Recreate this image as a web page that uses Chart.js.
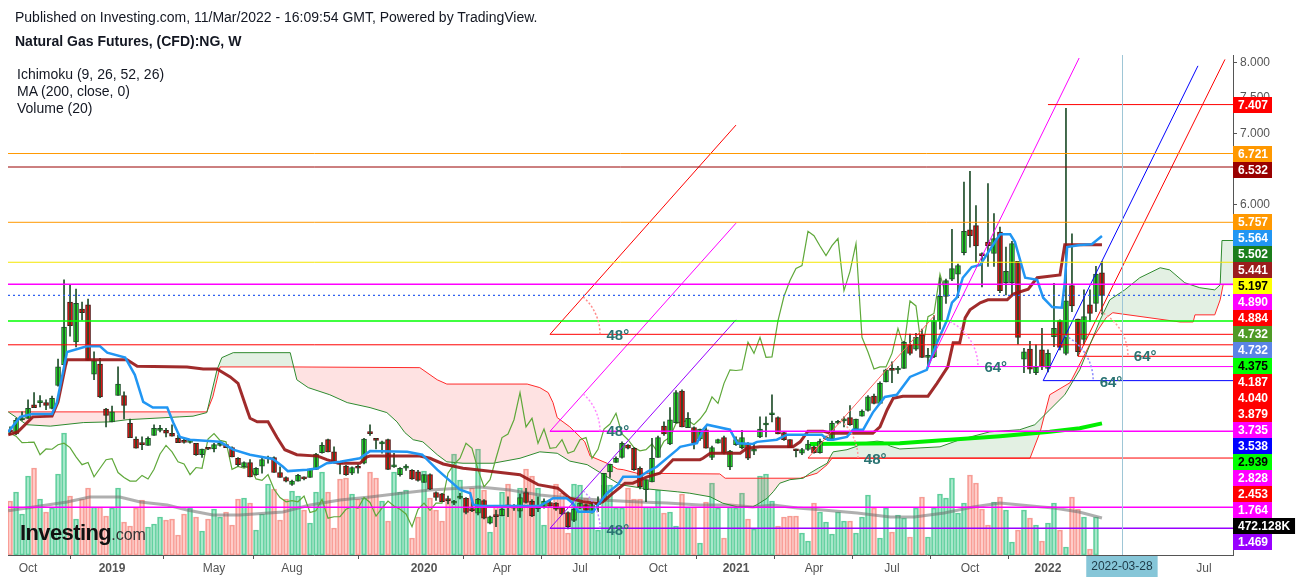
<!DOCTYPE html>
<html><head><meta charset="utf-8">
<script src="https://cdn.jsdelivr.net/npm/chart.js@4.4.1/dist/chart.umd.min.js"></script>
<style>
html,body{margin:0;padding:0;background:#fff;}
#wrap{position:relative;width:1299px;height:580px;overflow:hidden;font-family:Arial,"Liberation Sans",sans-serif;}
canvas{position:absolute;left:0;top:0;}
.t{position:absolute;white-space:nowrap;color:#131722;font-size:14px;line-height:16px;}
</style></head><body>
<div id="wrap">
<canvas id="c" width="1299" height="580"></canvas>
<div class="t" style="left:15px;top:9px;">Published on Investing.com, 11/Mar/2022 - 16:09:54 GMT, Powered by TradingView.</div>
<div class="t" style="left:15px;top:33px;font-weight:bold;">Natural Gas Futures, (CFD):NG, W</div>
<div class="t" style="left:17px;top:66px;">Ichimoku (9, 26, 52, 26)</div>
<div class="t" style="left:17px;top:83px;">MA (200, close, 0)</div>
<div class="t" style="left:17px;top:100px;">Volume (20)</div>
<div class="t" style="left:20px;top:520px;font-size:22px;line-height:26px;font-weight:bold;letter-spacing:-0.6px;color:#111">Investing<span style="font-size:16px;font-weight:normal;color:#333;letter-spacing:0">.com</span></div>
</div>
<script>
// ---------- DATA ----------
const weekStart = '2018-09-10'; // week index 0
const opens = [2.83,2.79,2.99,3.01,3.20,3.23,3.23,3.15,3.47,3.76,
4.64,4.08,4.54,4.60,3.63,3.77,3.14,2.96,3.33,3.33,
2.94,2.72,2.67,2.63,2.77,2.84,2.84,2.80,2.73,2.676,
2.672,2.66,2.50,2.59,2.58,2.63,2.64,2.60,2.45,2.33,
2.39,2.22,2.34,2.44,2.46,2.25,2.18,2.085,2.13,2.18,
2.18,2.295,2.53,2.71,2.54,2.39,2.34,2.24,2.32,2.38,
2.80,2.73,2.65,2.71,2.33,2.22,2.31,2.28,2.26,2.11,
2.22,1.97,1.95,1.858,1.82,1.89,1.89,1.72,1.68,1.856,
1.54,1.646,1.646,1.775,1.78,1.71,1.97,1.85,1.745,1.76,
1.83,1.82,1.76,1.69,1.58,1.75,1.80,1.70,1.80,1.865,
2.26,2.39,2.46,2.636,2.59,2.31,2.01,2.12,2.46,2.90,
2.65,2.95,3.39,2.88,2.88,2.72,2.85,2.46,2.66,2.74,
2.33,2.64,2.60,2.66,2.55,2.75,2.916,3.06,3.02,2.81,
2.71,2.56,2.52,2.575,2.61,2.53,2.72,2.72,2.94,2.975,
3.02,2.86,3.04,3.12,3.32,3.22,3.52,3.71,3.687,3.71,
4.04,3.98,4.18,3.865,3.87,4.38,4.72,4.96,5.03,5.33,
5.65,5.71,5.31,5.48,5.32,5.62,4.91,4.91,5.21,3.84,
3.98,3.65,3.97,3.71,4.155,4.38,3.92,4.87,4.40,4.117,
4.60,4.62,5.05];
const highs = [2.89,3.01,3.10,3.27,3.37,3.33,3.27,3.32,3.84,4.95,
4.88,4.82,4.64,4.68,3.94,3.85,3.15,3.18,3.73,3.38,
3.00,2.75,2.75,2.75,2.92,2.91,2.87,2.92,2.77,2.73,
2.69,2.66,2.58,2.60,2.66,2.67,2.645,2.61,2.46,2.40,
2.43,2.32,2.45,2.48,2.47,2.33,2.19,2.145,2.225,2.19,
2.30,2.52,2.67,2.72,2.61,2.40,2.35,2.33,2.36,2.73,
2.92,2.73,2.69,2.72,2.52,2.32,2.36,2.29,2.28,2.22,
2.23,1.98,1.96,1.92,1.86,1.96,1.90,1.84,1.89,1.87,
1.64,1.725,1.76,1.91,1.80,1.95,2.03,1.87,1.91,1.88,
1.87,1.83,1.76,1.70,1.75,1.83,1.81,1.835,1.91,2.24,
2.37,2.47,2.68,2.64,2.60,2.33,2.15,2.73,2.76,2.96,
3.16,3.40,3.41,3.09,2.89,2.86,2.88,2.62,2.72,2.76,
2.56,2.75,2.84,2.67,2.66,3.03,3.03,3.34,3.03,2.82,
2.71,2.58,2.59,2.70,2.62,2.72,2.76,2.97,2.98,3.03,
3.19,3.00,3.13,3.33,3.35,3.52,3.70,3.80,3.74,4.09,
4.19,4.20,4.26,3.99,4.45,4.98,4.96,5.66,5.17,6.32,
6.47,5.99,5.33,6.30,5.88,5.69,5.41,5.49,5.21,3.99,
4.09,4.04,4.27,3.97,4.90,4.39,7.355,5.594,4.40,4.81,
4.81,5.14,5.21];
const lows = [2.78,2.78,2.98,3.01,3.16,3.17,3.13,3.14,3.46,3.75,
4.16,4.01,4.39,3.82,3.55,3.30,2.89,2.96,3.33,3.00,
2.74,2.59,2.57,2.63,2.77,2.82,2.75,2.76,2.67,2.66,
2.66,2.49,2.46,2.57,2.54,2.62,2.60,2.47,2.34,2.32,
2.19,2.21,2.24,2.38,2.25,2.18,2.12,2.07,2.13,2.145,
2.18,2.29,2.52,2.54,2.38,2.23,2.21,2.22,2.24,2.37,
2.77,2.58,2.52,2.29,2.32,2.20,2.28,2.155,2.13,2.11,
2.01,1.86,1.84,1.81,1.80,1.88,1.67,1.70,1.655,1.60,
1.53,1.49,1.64,1.63,1.72,1.62,1.82,1.63,1.70,1.75,
1.78,1.72,1.66,1.46,1.56,1.74,1.70,1.68,1.70,1.86,
2.18,2.39,2.45,2.58,2.28,2.02,1.84,2.12,2.46,2.77,
2.64,2.94,2.89,2.88,2.58,2.70,2.59,2.43,2.66,2.51,
2.29,2.63,2.58,2.43,2.50,2.74,2.75,2.96,2.79,2.70,
2.60,2.47,2.50,2.56,2.52,2.52,2.71,2.71,2.93,2.89,
2.91,2.85,3.04,3.11,3.21,3.21,3.52,3.51,3.64,3.71,
3.90,3.96,3.86,3.74,3.86,4.26,4.62,4.94,4.70,5.30,
5.41,5.19,4.85,5.14,5.14,4.77,4.74,4.74,4.05,3.65,
3.64,3.62,3.69,3.66,4.015,3.97,3.90,4.505,3.888,4.05,
4.365,4.505,4.47];
const closes = [2.82,2.98,3.01,3.15,3.16,3.26,3.19,3.29,3.73,4.29,
4.31,4.62,4.49,3.82,3.82,3.31,3.05,3.10,3.49,3.19,
2.74,2.59,2.64,2.73,2.87,2.87,2.80,2.76,2.67,2.672,
2.676,2.50,2.58,2.576,2.64,2.66,2.60,2.47,2.36,2.39,
2.19,2.31,2.43,2.445,2.25,2.18,2.13,2.13,2.21,2.16,
2.295,2.51,2.63,2.54,2.40,2.37,2.22,2.32,2.31,2.72,
2.795,2.70,2.68,2.295,2.335,2.31,2.34,2.16,2.14,2.22,
2.015,1.90,1.84,1.855,1.84,1.92,1.69,1.715,1.875,1.61,
1.63,1.632,1.735,1.77,1.75,1.90,1.83,1.64,1.752,1.85,
1.78,1.735,1.67,1.49,1.735,1.82,1.72,1.82,1.82,2.24,
2.365,2.45,2.66,2.59,2.29,2.05,2.15,2.45,2.74,2.79,
2.99,3.37,2.89,3.01,2.66,2.86,2.59,2.60,2.71,2.52,
2.55,2.71,2.74,2.45,2.575,2.86,2.93,3.08,2.79,2.71,
2.60,2.555,2.57,2.65,2.53,2.69,2.745,2.94,2.96,2.98,
2.92,3.00,3.11,3.31,3.22,3.50,3.69,3.68,3.69,4.075,
3.92,4.145,3.865,3.87,4.38,4.72,4.94,5.11,5.15,5.63,
5.57,5.425,5.29,5.43,5.53,4.80,5.07,5.46,4.145,3.94,
3.70,3.73,3.73,3.92,4.27,4.005,4.655,4.585,3.945,4.435,
4.48,5.03,4.732];
// weekly volume, thousands of contracts
const volumesK = [689,804,523,1008,1110,715,549,600,1034,1557,
753,459,715,855,612,612,498,600,855,421,
370,600,702,357,396,485,447,459,255,523,
600,485,306,459,587,485,549,383,715,727,
664,319,523,906,842,447,715,817,753,574,
408,804,1059,804,345,970,983,778,715,727,
1059,983,689,434,1059,804,829,217,485,1072,
727,574,434,689,1289,957,727,855,1353,829,
293,638,804,906,638,855,1097,1008,855,383,
638,906,791,281,906,893,727,638,319,893,
893,600,600,855,715,715,612,612,829,536,
549,370,778,612,612,153,676,919,600,217,
612,600,791,459,332,1008,1034,689,370,485,
498,498,281,179,664,549,421,268,549,434,
434,281,485,766,600,217,600,293,510,472,
230,600,740,230,600,778,727,983,536,664,
1021,919,587,383,676,740,574,166,319,574,
472,383,179,408,664,319,102,740,587,485,
77,485,null];
// x tick positions (week index) and labels
const tickWeeks = [3,17,34,47,69,82,95,108,121,134,147,160,173,199];
const tickLabels = ['Oct','2019','May','Aug','2020','Apr','Jul','Oct','2021','Apr','Jul','Oct','2022','Jul'];
const crosshairWeek = 185.33, crosshairLabel = '2022-03-28';
// Ichimoku (9,26,52,26) lines: [week, price]
const tenkan = [[-0.3,2.82],[1.7,3.03],[3.7,3.07],[7,3.07],[7.8,3.23],[9.5,3.94],[12.8,4.02],[15,4.02],[16.2,3.93],[19.2,3.86],[20.8,3.62],[22.2,3.24],[23.8,3.16],[26.2,3.16],[27.2,2.95],[28.3,2.75],[30,2.71],[35,2.68],[37.2,2.57],[40,2.50],[43.8,2.44],[45.5,2.33],[46.3,2.27],[49.5,2.29],[51.3,2.31],[52.8,2.38],[55,2.40],[58.3,2.45],[60,2.55],[66.2,2.54],[68.7,2.50],[71.2,2.29],[75,2.01],[76.7,1.96],[77.2,1.80],[78.3,1.78],[88.3,1.78],[90.5,1.89],[92.8,1.89],[93.8,1.82],[94.7,1.70],[97.2,1.70],[98,1.80],[99.5,1.96],[101.3,2.08],[102.2,2.19],[105,2.19],[106.2,2.26],[107.8,2.33],[111.2,2.57],[111.7,2.61],[114.5,2.66],[115.5,2.85],[116.2,2.92],[120,2.85],[121.2,2.66],[123.8,2.65],[124.5,2.68],[127.8,2.71],[129.5,2.78],[135.3,2.78],[136.3,2.71],[137.2,2.71],[139.5,2.75],[140.5,2.85],[142.2,2.85],[143.8,3.09],[145.8,3.31],[147.8,3.34],[150,3.59],[152.8,3.69],[154.5,4.07],[156.2,4.39],[157,4.63],[157.8,4.70],[158.8,4.98],[160.3,5.13],[161.7,5.16],[163.3,5.37],[165,5.59],[166.7,5.59],[167.5,5.48],[169.2,4.98],[171.2,4.95],[172.2,4.70],[173.7,4.57],[175.3,4.56],[175.8,4.91],[176.2,5.41],[178.3,5.44],[180.3,5.45],[182,5.564]];
const kijun = [[-0.3,2.78],[1.3,2.82],[3.8,3.03],[7,3.04],[8,3.24],[9.2,3.73],[9.5,3.83],[19.5,3.83],[21.2,3.74],[29.5,3.73],[32.2,3.70],[34.5,3.70],[36.7,3.59],[38,3.50],[39.5,3.13],[40,3.01],[41.2,2.96],[43,2.96],[44.5,2.74],[45.8,2.57],[47.8,2.50],[51.3,2.48],[52.8,2.43],[54.7,2.38],[58.3,2.38],[59.5,2.47],[60,2.48],[68.3,2.48],[70,2.45],[72.2,2.37],[75.5,2.31],[76.7,2.30],[85,2.22],[88,2.08],[91.3,2.03],[93.3,1.89],[95.5,1.84],[97.8,1.82],[98.8,1.84],[100.5,1.96],[102.5,2.10],[103.8,2.10],[106.2,2.19],[108.3,2.24],[110.5,2.43],[115,2.43],[115.5,2.45],[116.7,2.52],[121.7,2.52],[122.8,2.59],[125,2.61],[130.5,2.61],[131.7,2.68],[133,2.83],[135.5,2.83],[136.7,2.80],[143.8,2.80],[145,2.89],[146.2,3.13],[147.2,3.29],[148.8,3.32],[153,3.32],[154.5,3.50],[156.3,3.73],[157.2,4.07],[158.3,4.07],[159.2,4.42],[160,4.53],[161.7,4.63],[163,4.67],[166.2,4.67],[167.2,4.75],[169.7,4.82],[171.2,4.98],[175,5.02],[175.8,5.441],[182,5.441]];
const senkouA = [[-0.3,3.10],[2.8,2.92],[6.7,2.90],[12.2,2.95],[16.7,2.96],[19.5,2.99],[28.3,3.03],[30.5,3.04],[32.8,3.09],[34.5,3.69],[35.3,3.86],[37.2,3.93],[46.7,3.93],[47.8,3.55],[49.7,3.44],[53.3,3.34],[56.2,3.23],[60,3.16],[62.8,3.09],[64.5,2.96],[65.8,2.81],[67.2,2.71],[68.8,2.68],[71.2,2.50],[72.8,2.40],[75.5,2.38],[80.5,2.38],[85,2.45],[88.3,2.54],[91.2,2.52],[93.3,2.41],[96.2,2.36],[99.5,2.19],[101.7,2.08],[106.2,2.02],[111.2,1.98],[113.3,1.96],[116.7,1.91],[118.8,1.82],[121.2,1.77],[123.8,1.77],[124.5,1.80],[126.2,1.89],[127.2,1.98],[128.3,2.10],[130,2.15],[132.2,2.17],[133.3,2.24],[134.7,2.31],[136.2,2.38],[136.7,2.47],[137.2,2.54],[139.5,2.57],[141.2,2.62],[141.7,2.66],[144.5,2.69],[145.5,2.68],[146.7,2.62],[148.3,2.58],[155,2.61],[158.3,2.71],[163.3,2.82],[168.3,2.85],[170.8,2.92],[173.3,3.13],[175.8,3.34],[178.3,3.69],[180,4.04],[181.7,4.39],[183.3,4.67],[185.8,4.81],[188.3,4.98],[191.7,5.12],[193.3,5.09],[195.8,4.91],[198.3,4.84],[200.8,4.81],[201.7,4.88],[202,5.502],[203.9,5.502]];
const senkouB = [[-0.3,3.10],[2.8,3.10],[32.8,3.10],[33.8,3.31],[35,3.73],[46.7,3.73],[68.3,3.72],[71.2,3.55],[72.8,3.49],[86.2,3.49],[88.3,3.44],[89.7,3.37],[90.5,3.23],[91.2,3.02],[93.3,2.89],[95,2.75],[95.8,2.68],[96.7,2.48],[99.5,2.38],[101.2,2.30],[102.2,2.29],[104.5,2.24],[118.3,2.23],[119.2,2.17],[131.7,2.17],[134.5,2.24],[136.2,2.36],[137,2.45],[170,2.45],[171.7,2.82],[173.3,3.34],[176.7,3.51],[180.8,4.18],[182.7,4.42],[183.8,4.49],[195,4.36],[197.2,4.36],[197.5,4.46],[200.8,4.46],[201.7,4.67],[202.2,4.884],[203.9,4.884]];
const chikouShift = 26;
const ma200 = [[133.3,2.65],[148.3,2.66],[165,2.76],[173.3,2.82],[178.3,2.87],[182,2.939]];
const volMA = [[-0.3,565],[9.5,676],[13.3,740],[18.3,740],[21.7,676],[26.2,638],[29.5,574],[33.8,510],[38.3,510],[45.5,549],[50,638],[55,702],[60,740],[65.5,791],[70,829],[75.5,855],[78.3,868],[83.3,829],[88.3,766],[93.3,727],[98.3,702],[105,676],[109.5,664],[115,638],[120,638],[123.8,612],[127.2,638],[131.2,600],[135.5,574],[141.2,536],[146.7,485],[150.7,485],[155.7,536],[160.5,612],[165,664],[172,612],[174,600],[178.2,549],[182,472.128]];
// drawings: horizontal levels (price, start week; null = left edge)
const levelPrices = [7.407,6.721,6.532,5.757,5.197,4.890,4.732,4.375,4.187,4.040,3.879,3.735,3.538,2.828,2.453,1.764,1.469];
const levelFrom   = [173,null,null,null,null,null,null,null,90,null,178,153,172.2,90,133,null,90];
// trend lines (from / to: [week, price]) and angle labels
const trendFrom = [[90,4.187],[90,2.828],[90,1.469],[133,2.453],[153,3.735],[172.2,3.538],[178,3.879]];
const trendTo   = [[121,7.12],[121,5.745],[121,4.39],[154.2,4.46],[178.2,8.06],[198,7.95],[202.5,8.04]];
const angleText = ['48°','48°','48°','48°','64°','64°','64°'];
const angleAt   = [[101.3,4.164],[101.3,2.818],[101.3,1.431],[144.2,2.426],[164.3,3.715],[183.5,3.505],[189.2,3.87]];
// right-axis value tags
const tagValues = [7.407,6.721,6.532,5.757,5.564,5.502,5.441,5.197,4.890,4.884,4.732,4.732,4.375,4.187,4.040,3.879,3.735,3.538,2.939,2.828,2.453,1.764,472.128,1.469];
const tagIsVolume = [0,0,0,0,0,0,0,0,0,0,0,0,0,0,0,0,0,0,0,0,0,0,1,0];

// ---------- STYLES ----------
const levelColors = ['#ff0000','#ff9800','#990000','#ff9800','#f5e600','#ff00ff','#2f62f0','#00ff00','#ff0000','#ff0000','#ff0000','#ff00ff','#0000ff','#ff00ff','#ff0000','#ff00ff','#9900ff'];
const levelDash   = [[],[],[],[],[],[],[2,3],[],[],[],[],[],[],[],[],[],[]];
const levelWidth  = [1,1,1,1,1,1.5,1.2,1.5,1,1,1,1,1,1.5,1,1.5,1.5];
const trendColors = ['#ff0000','#ff00ff','#9900ff','#ff6060','#ff00ff','#0000ff','#ff0000'];
const arcColors   = ['#ff8a8a','#ff88ff','#c08cff','#ff9a9a','#ff88ff','#8c8cff','#ff9a9a'];
const tagBg = ['#ff0000','#ff9800','#990000','#ff9800','#2196f3','#1b7d1b','#9b1c1c','#ffff00','#ff00ff','#ff0000','#4f9a26','#5b84e6','#00ff00','#ff0000','#ff0000','#ff0000','#ff00ff','#0000ff','#00ff00','#ff00ff','#ff0000','#ff00ff','#000000','#9900ff'];
const tagFg = tagBg.map(c => (c==='#ffff00'||c==='#00ff00') ? '#000' : '#fff');

const FONT = 'Arial, "Liberation Sans", sans-serif';
Chart.defaults.font.family = FONT;
const X0 = -0.34, X1 = 203.84;
const P = a => a.map(p => ({x:p[0], y:p[1]}));

const idx = closes.map((_, i) => i);
const up = idx.map(i => closes[i] >= opens[i]);

const datasets = [];
// drawings on top
levelPrices.forEach((v, k) => {
  datasets.push({type:'line', data:[{x: levelFrom[k]===null ? X0 : levelFrom[k], y:v},{x:X1, y:v}],
    borderColor: levelColors[k], borderWidth: levelWidth[k], borderDash: levelDash[k], pointRadius:0, order:0});
});
trendFrom.forEach((f, k) => {
  datasets.push({type:'line', data:[{x:f[0], y:f[1]},{x:trendTo[k][0], y:trendTo[k][1]}],
    borderColor: trendColors[k], borderWidth: 1, pointRadius:0, order:0});
});
// ichimoku lines
datasets.push({type:'line', data:P(tenkan), borderColor:'#2196f3', borderWidth:2.5, pointRadius:0, order:1});
datasets.push({type:'line', data:P(kijun), borderColor:'rgba(150,20,20,0.9)', borderWidth:3, pointRadius:0, order:1});
datasets.push({type:'line', data:idx.map(i => ({x:i - chikouShift, y:closes[i]})), borderColor:'#5fa83a', borderWidth:1.2, pointRadius:0, order:3});
datasets.push({type:'line', data:P(ma200), borderColor:'#00ee00', borderWidth:4, pointRadius:0, order:3});
// candles
datasets.push({type:'bar', data:idx.map(i => ({x:i, y:[lows[i], highs[i]]})), backgroundColor:'#1f4d2a',
  barThickness:1, grouped:false, order:2});
datasets.push({type:'bar', data:idx.map(i => ({x:i, y:[opens[i], closes[i]]})),
  backgroundColor: idx.map(i => up[i] ? '#22e622' : '#ee1111'),
  borderColor: idx.map(i => up[i] ? '#1f4d2a' : '#4a1010'),
  borderWidth:1, borderSkipped:false, barThickness:5, minBarLength:2, grouped:false, order:2});
// cloud
const idxA = datasets.length;
datasets.push({type:'line', data:P(senkouA), borderColor:'#2f8a2f', borderWidth:1, pointRadius:0, order:4, fill:false});
datasets.push({type:'line', data:P(senkouB), borderColor:'#ff2a2a', borderWidth:1, pointRadius:0, order:4,
  fill:{target: idxA, above:'rgba(250,110,110,0.2)', below:'rgba(80,160,80,0.16)'}});
// volume
datasets.push({type:'line', yAxisID:'yv', data:P(volMA), borderColor:'rgba(110,110,110,0.55)', borderWidth:3, pointRadius:0, order:5});
datasets.push({type:'bar', yAxisID:'yv', data:idx.map(i => ({x:i, y:volumesK[i]})),
  backgroundColor: idx.map(i => up[i] ? 'rgba(60,205,140,0.45)' : 'rgba(255,120,110,0.38)'),
  borderColor: idx.map(i => up[i] ? 'rgba(50,190,125,0.75)' : 'rgba(240,110,100,0.65)'),
  borderWidth:1, borderSkipped:false, barThickness:5, grouped:false, order:6});

const overlay = {
  id:'overlay',
  afterDatasetsDraw(chart){
    const {ctx, chartArea:ca, scales:{x, y}} = chart;
    ctx.save();
    ctx.beginPath(); ctx.rect(ca.left, ca.top, ca.right-ca.left, ca.bottom-ca.top); ctx.clip();
    // angle arcs
    trendFrom.forEach((f, k) => {
      const x0 = x.getPixelForValue(f[0]), y0 = y.getPixelForValue(f[1]);
      const x1 = x.getPixelForValue(trendTo[k][0]), y1 = y.getPixelForValue(trendTo[k][1]);
      const ang = Math.atan2(y1 - y0, x1 - x0);
      ctx.beginPath(); ctx.setLineDash([2,2]); ctx.strokeStyle = arcColors[k]; ctx.lineWidth = 1.5;
      ctx.arc(x0, y0, 50, ang, 0); ctx.stroke();
    });
    ctx.setLineDash([]);
    ctx.font = 'bold 15px ' + FONT; ctx.fillStyle = '#2a7372'; ctx.textAlign = 'center'; ctx.textBaseline = 'middle';
    angleText.forEach((t, k) => ctx.fillText(t, x.getPixelForValue(angleAt[k][0]), y.getPixelForValue(angleAt[k][1])));
    // crosshair
    const cx = Math.round(x.getPixelForValue(crosshairWeek)) + 0.5;
    ctx.beginPath(); ctx.strokeStyle = '#9ec6d6'; ctx.lineWidth = 1;
    ctx.moveTo(cx, ca.top); ctx.lineTo(cx, ca.bottom); ctx.stroke();
    ctx.restore();
  },
  afterDraw(chart){
    const {ctx, chartArea:ca, scales:{x, y, yv}} = chart;
    ctx.save();
    // value tags, stacked
    const items = tagValues.map((v, k) => ({k, ny: (tagIsVolume[k] ? yv : y).getPixelForValue(v)}));
    items.sort((a, b) => a.ny - b.ny);
    let last = -1e9;
    items.forEach(it => { it.y = Math.max(it.ny, last + 16); last = it.y; });
    ctx.font = 'bold 12px ' + FONT; ctx.textBaseline = 'middle'; ctx.textAlign = 'left';
    items.forEach(it => {
      const k = it.k;
      const txt = tagIsVolume[k] ? tagValues[k].toFixed(3) + 'K' : tagValues[k].toFixed(3);
      const w = tagIsVolume[k] ? ctx.measureText(txt).width + 10 : 39;
      ctx.fillStyle = tagBg[k];
      ctx.fillRect(ca.right, Math.round(it.y) - 8, w, 16);
      ctx.fillStyle = tagFg[k];
      ctx.fillText(txt, ca.right + 5, Math.round(it.y) + 0.5);
    });
    // crosshair date label on x axis
    const cx = x.getPixelForValue(crosshairWeek);
    ctx.font = '12px ' + FONT;
    const tw = ctx.measureText(crosshairLabel).width + 10;
    ctx.fillStyle = '#86c6d8';
    ctx.fillRect(cx - tw/2, ca.bottom + 1, tw, 21);
    ctx.fillStyle = '#1d3a47'; ctx.textAlign = 'center';
    ctx.fillText(crosshairLabel, cx, ca.bottom + 12);
    ctx.restore();
  }
};

new Chart(document.getElementById('c'), {
  type:'bar',
  data:{datasets},
  plugins:[overlay],
  options:{
    responsive:false, animation:false, devicePixelRatio:1,
    layout:{padding:{left:8, top:55, right:0, bottom:0}},
    plugins:{legend:{display:false}, tooltip:{enabled:false}},
    scales:{
      x:{type:'linear', min:X0, max:X1, offset:false,
        grid:{display:true, drawOnChartArea:false, drawTicks:true, tickLength:4, color:'#555'},
        border:{display:true, color:'#555'},
        afterBuildTicks: s => { s.ticks = tickWeeks.map(v => ({value:v})); },
        afterFit: s => { s.height = 25; },
        ticks:{autoSkip:false, maxRotation:0, padding:2, color:'#555',
          font: c => ({size:12, family:FONT, weight: /^\d{4}$/.test(tickLabels[c.index]||'') ? 'bold' : 'normal'}),
          callback: (v, i) => tickLabels[i]}
      },
      y:{type:'linear', position:'right', min:1.094, max:8.102,
        grid:{display:true, drawOnChartArea:false, drawTicks:true, tickLength:4, color:'#555'},
        border:{display:true, color:'#555'},
        afterBuildTicks: s => { const t=[]; for (let v=1.5; v<=8.0001; v+=0.5) t.push({value:+v.toFixed(1)}); s.ticks=t; },
        afterFit: s => { s.width = 66; },
        ticks:{padding:3, color:'#555', font:{size:12}, callback: v => Number(v).toFixed(3)}
      },
      yv:{type:'linear', display:false, min:0, max:6380}
    }
  }
});
</script>
</body></html>
